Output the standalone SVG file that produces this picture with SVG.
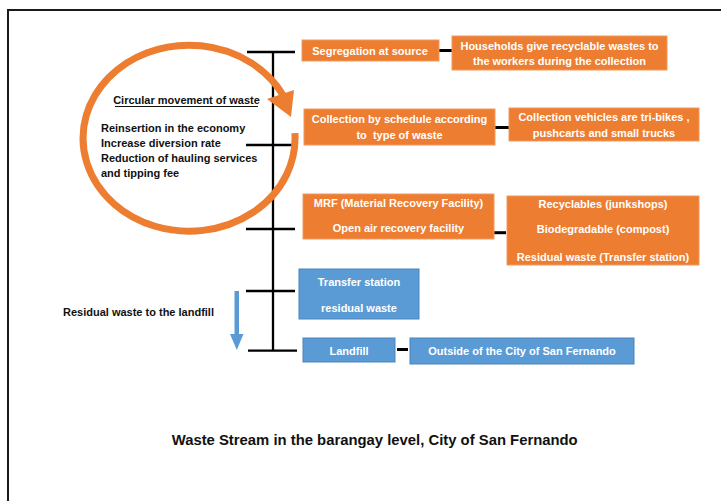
<svg xmlns="http://www.w3.org/2000/svg" width="721" height="501" viewBox="0 0 721 501">
<style>
  .bg{fill:#ffffff}
  .frame{stroke:#1a1a1a;stroke-width:2;fill:none}
  .ln{stroke:#000;stroke-width:2.3;fill:none}
  .dash{stroke:#000;stroke-width:3;fill:none}
  .ob{fill:#ED7D31;stroke:#F29A60;stroke-width:1}
  .bb{fill:#5B9BD5;stroke:#4A84BC;stroke-width:1}
  .bt{fill:#ffffff;font-family:"Liberation Sans",Arial,sans-serif;font-weight:bold;font-size:11px;text-anchor:middle}
  .kt{fill:#111;font-family:"Liberation Sans",Arial,sans-serif;font-weight:bold;font-size:11px}
  .ring{stroke:#ED7D31;stroke-width:7;fill:none}
</style>
<rect class="bg" x="0" y="0" width="721" height="501"/>
<path class="frame" d="M8,501 V10 H721"/>

<g id="connectors">
  <line class="ln" x1="273" y1="51" x2="273" y2="351"/>
  <line class="ln" x1="247" y1="52" x2="295" y2="52"/>
  <line class="ln" x1="246" y1="145" x2="295" y2="145"/>
  <line class="ln" x1="246" y1="229" x2="295" y2="229"/>
  <line class="ln" x1="246" y1="291" x2="295" y2="291"/>
  <line class="ln" x1="248" y1="350.7" x2="297" y2="350.7"/>
  <line class="dash" x1="439" y1="50.5" x2="452" y2="50.5"/>
  <line class="dash" x1="495" y1="127.5" x2="509" y2="127.5"/>
  <line class="dash" x1="494" y1="232.7" x2="506" y2="232.7"/>
  <line class="dash" x1="397" y1="349.5" x2="408" y2="349.5"/>
</g>

<g id="cycle">
  <path class="ring" d="M294.9,133.1 A106,93 0 1 1 283,95.1"/>
  <polygon points="267,99 294,90 291,117" fill="#ED7D31"/>
  <text class="kt" x="186.5" y="104" text-anchor="middle">Circular movement of waste</text>
  <line x1="115" y1="106.5" x2="258" y2="106.5" stroke="#111" stroke-width="1"/>
  <text class="kt" x="101" y="131.7">Reinsertion in the economy</text>
  <text class="kt" x="101" y="146.7">Increase diversion rate</text>
  <text class="kt" x="101" y="161.7">Reduction of hauling services</text>
  <text class="kt" x="101" y="176.7">and tipping fee</text>
</g>

<g id="segregation">
  <rect class="ob" x="302" y="40" width="137" height="21"/>
  <text class="bt" x="370" y="54.5">Segregation at source</text>
</g>
<g id="households">
  <rect class="ob" x="452" y="36" width="215" height="34"/>
  <text class="bt" x="559.5" y="49.7">Households give recyclable wastes to</text>
  <text class="bt" x="559.5" y="65">the workers during the collection</text>
</g>
<g id="collection">
  <rect class="ob" x="304" y="109" width="191" height="36"/>
  <text class="bt" x="399.5" y="123.3">Collection by schedule according</text>
  <text class="bt" x="399.5" y="139" xml:space="preserve">to  type of waste</text>
</g>
<g id="vehicles">
  <rect class="ob" x="509" y="108" width="190" height="33"/>
  <text class="bt" x="604" y="121.3">Collection vehicles are tri-bikes ,</text>
  <text class="bt" x="604" y="136.7">pushcarts and small trucks</text>
</g>
<g id="mrf">
  <rect class="ob" x="303" y="194" width="191" height="45"/>
  <text class="bt" x="398.5" y="207.3">MRF (Material Recovery Facility)</text>
  <text class="bt" x="398.5" y="232.3">Open air recovery facility</text>
</g>
<g id="outputs">
  <rect class="ob" x="507" y="196" width="192" height="69"/>
  <text class="bt" x="603" y="208">Recyclables (junkshops)</text>
  <text class="bt" x="603" y="233.3">Biodegradable (compost)</text>
  <text class="bt" x="603" y="260.7">Residual waste (Transfer station)</text>
</g>
<g id="transfer">
  <rect class="bb" x="299" y="269" width="120" height="50"/>
  <text class="bt" x="359" y="285.7">Transfer station</text>
  <text class="bt" x="359" y="311.7">residual waste</text>
</g>
<g id="landfill">
  <rect class="bb" x="303" y="338" width="92" height="24"/>
  <text class="bt" x="349" y="354.7">Landfill</text>
</g>
<g id="outside">
  <rect class="bb" x="410" y="338" width="224" height="26"/>
  <text class="bt" x="522" y="354.7">Outside of the City of San Fernando</text>
</g>

<g id="residual-arrow">
  <rect x="234.5" y="291" width="4.5" height="44" fill="#5B9BD5"/>
  <polygon points="230,334 243.5,334 236.8,350" fill="#5B9BD5"/>
  <text class="kt" x="63" y="315.7">Residual waste to the landfill</text>
</g>

<text x="374.7" y="445" text-anchor="middle" textLength="406" lengthAdjust="spacingAndGlyphs" style="fill:#111;font-family:'Liberation Sans',Arial,sans-serif;font-weight:bold;font-size:15px">Waste Stream in the barangay level, City of San Fernando</text>
</svg>
